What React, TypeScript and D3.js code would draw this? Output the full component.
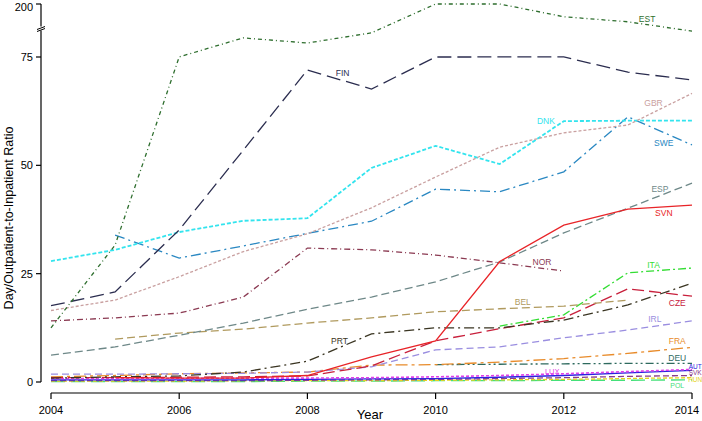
import React from "react";
import * as d3 from "d3";

const years = [2004, 2005, 2006, 2007, 2008, 2009, 2010, 2011, 2012, 2013, 2014];

const EST = [12.5, 31.6, 75.2, 120, 108, 132, 200, 200, 170, 158, 136];
const FIN = [17.6, 20.8, 35.1, 53.5, 72.0, 67.6, 75.0, 75.1, 75.1, 71.5, 69.7];
const GBR = [16.5, 18.9, 24.3, 30.1, 34.2, 40.2, 47.3, 54.2, 57.5, 59.3, 66.6];
const DNK = [27.9, 30.5, 34.6, 37.2, 37.8, 49.4, 54.5, 50.3, 60.2, 60.3, 60.3];
const SWE = [null, 33.9, 28.6, 31.4, 34.3, 37.1, 44.5, 43.9, 48.5, 61.2, 54.7];
const ESP = [6.2, 8.1, 10.8, 13.6, 16.8, 19.6, 23.1, 27.7, 34.4, 40.1, 45.9];
const NOR = [14.1, 14.8, 15.9, 19.6, 30.9, 30.5, 29.3, 27.5, 25.6, null, null];
const SVN = [null, 1.0, 0.9, 0.9, 1.5, 5.8, 9.5, 27.8, 36.2, 39.9, 40.8];
const BEL = [null, 9.9, 11.3, 12.2, 13.6, 14.8, 16.2, 16.9, 17.5, 18.9, null];
const PRT = [0.9, 1.2, 1.4, 2.3, 4.8, 11.1, 12.5, 12.5, 14.3, 17.8, 22.8];
const ITA = [null, null, null, null, null, null, null, 12.9, 15.5, 25.2, 26.3];
const CZE = [1.0, 1.0, 1.1, 1.2, 1.4, 3.7, 9.5, 12.3, 14.8, 21.5, 19.8];
const IRL = [1.8, 1.8, 1.9, 2.0, 2.3, 3.5, 7.4, 8.1, 10.2, 12.0, 14.1];
const FRA = [1.2, 1.5, 1.9, 2.1, 2.3, 3.9, 4.0, 4.6, 5.4, 6.6, 8.0];
const DEU = [null, null, null, null, null, null, 4.0, 4.1, 4.2, 4.3, 4.3];
const AUT = [0.5, 0.5, 0.5, 0.5, 0.6, 0.7, 0.8, 1.1, 1.5, 2.1, 2.7];
const LUX = [0.8, 0.8, 0.8, 0.9, 0.9, 1.0, 1.2, 1.5, 1.9, 2.4, 2.9];
const SVK = [0.3, 0.3, 0.3, 0.3, 0.4, 0.5, 0.6, 0.8, 1.0, 1.3, 1.5];
const HUN = [0.2, 0.2, 0.2, 0.3, 0.3, 0.3, 0.4, 0.5, 0.6, 0.8, 1.0];
const POL = [0.1, 0.1, 0.1, 0.1, 0.2, 0.2, 0.3, 0.3, 0.4, 0.4, 0.5];

const yTicks = [0, 25, 50, 75, 200];
const xTicks = [2004, 2006, 2008, 2010, 2012, 2014];

// label anchors in data coordinates [year, value]
const labelPos: Record<string, [number, number]> = {
  EST: [2013.3, 164],
  FIN: [2008.55, 71.3],
  GBR: [2013.4, 64.4],
  DNK: [2011.72, 60.2],
  SWE: [2013.56, 55.2],
  ESP: [2013.5, 44.5],
  SVN: [2013.56, 39.0],
  NOR: [2011.66, 27.7],
  ITA: [2013.4, 27.0],
  BEL: [2011.36, 18.5],
  CZE: [2013.77, 18.2],
  PRT: [2008.5, 9.5],
  IRL: [2013.42, 14.5],
  FRA: [2013.77, 9.5],
  DEU: [2013.77, 5.5],
  LUX: [2011.82, 2.5],
  AUT: [2014.05, 3.5],
  SVK: [2014.05, 2.1],
  HUN: [2014.05, 0.5],
  POL: [2013.77, -0.7],
};

const series: { name: string; values: (number | null)[]; color: string; dash: string; w: number; fs: number }[] = [
  { name: "POL", values: POL, color: "#44e07a", dash: "14,6", w: 1.3, fs: 7 },
  { name: "HUN", values: HUN, color: "#e6d320", dash: "4,2", w: 1.3, fs: 6.5 },
  { name: "SVK", values: SVK, color: "#8a3c8a", dash: "6,3", w: 1.3, fs: 6.5 },
  { name: "AUT", values: AUT, color: "#2a22e0", dash: "", w: 1.3, fs: 6.5 },
  { name: "LUX", values: LUX, color: "#e040e8", dash: "3,2", w: 1.6, fs: 7.5 },
  { name: "DEU", values: DEU, color: "#2e6a5e", dash: "8,3,2,3,2,3", w: 1.3, fs: 8.5 },
  { name: "FRA", values: FRA, color: "#e88b2a", dash: "12,4,3,4", w: 1.3, fs: 8.5 },
  { name: "IRL", values: IRL, color: "#9a8ee0", dash: "7,4", w: 1.3, fs: 8.5 },
  { name: "CZE", values: CZE, color: "#c8203c", dash: "12,5", w: 1.3, fs: 8.5 },
  { name: "PRT", values: PRT, color: "#3a3522", dash: "10,4,2,4", w: 1.3, fs: 8.5 },
  { name: "ITA", values: ITA, color: "#33dd33", dash: "8,3,2,3", w: 1.3, fs: 8.5 },
  { name: "BEL", values: BEL, color: "#b09a5e", dash: "8,4", w: 1.3, fs: 8.5 },
  { name: "NOR", values: NOR, color: "#8b3a52", dash: "6,3,1,3", w: 1.3, fs: 8.5 },
  { name: "ESP", values: ESP, color: "#6e8888", dash: "8,4", w: 1.3, fs: 8.5 },
  { name: "SVN", values: SVN, color: "#e82428", dash: "", w: 1.3, fs: 8.5 },
  { name: "SWE", values: SWE, color: "#2a88c2", dash: "10,4,2,4", w: 1.3, fs: 8.5 },
  { name: "DNK", values: DNK, color: "#33e4ee", dash: "4,2", w: 1.8, fs: 8.5 },
  { name: "GBR", values: GBR, color: "#c9a0a0", dash: "3,2", w: 1.3, fs: 8.5 },
  { name: "FIN", values: FIN, color: "#2b2d4f", dash: "14,6", w: 1.3, fs: 8.5 },
  { name: "EST", values: EST, color: "#2e6e2e", dash: "4,3,1,3", w: 1.3, fs: 8.5 },
];

export default function App() {
  const W = 702, H = 421;
  const x = d3.scaleLinear().domain([2004, 2014]).range([51, 692]);
  const y = d3.scaleLinear().domain([0, 75, 200]).range([382, 57, 4]);
  const axisX = 41;
  const axisY = 393;
  const font = "'Liberation Sans', Arial, sans-serif";

  const line = d3
    .line<[number, number | null]>()
    .defined((d) => d[1] !== null)
    .x((d) => x(d[0]))
    .y((d) => y(d[1] as number));

  const breakY = (y(75) + y(200)) / 2 - 2;

  return (
    <svg
      width={W}
      height={H}
      style={{ position: "absolute", left: 0, top: 0, background: "#fff" }}
      fontFamily={font}
    >
      {/* y axis */}
      <line x1={axisX} x2={axisX} y1={y(200)} y2={y(0)} stroke="#000" strokeWidth={1.2} />
      <rect x={axisX - 4} y={breakY - 2} width={8} height={4} fill="#fff" />
      <line x1={axisX - 4} x2={axisX + 4} y1={breakY + 1} y2={breakY - 2} stroke="#000" strokeWidth={1} />
      <line x1={axisX - 4} x2={axisX + 4} y1={breakY + 3} y2={breakY} stroke="#000" strokeWidth={1} />
      {yTicks.map((t) => (
        <g key={t}>
          <line x1={axisX - 5} x2={axisX} y1={y(t)} y2={y(t)} stroke="#000" strokeWidth={1.2} />
          <text x={axisX - 8} y={Math.max(y(t), 6.5)} textAnchor="end" dominantBaseline="central" fontSize={11}>
            {t}
          </text>
        </g>
      ))}
      <text
        transform={`translate(9,${218}) rotate(-90)`}
        textAnchor="middle"
        dominantBaseline="central"
        fontSize={12.5}
      >
        Day/Outpatient-to-Inpatient Ratio
      </text>

      {/* x axis */}
      <line x1={x(2004)} x2={x(2014)} y1={axisY} y2={axisY} stroke="#000" strokeWidth={1.2} />
      {xTicks.map((t) => (
        <g key={t}>
          <line x1={x(t)} x2={x(t)} y1={axisY} y2={axisY + 6} stroke="#000" strokeWidth={1.2} />
          <text x={Math.min(x(t), W - 15)} y={axisY + 17} textAnchor="middle" dominantBaseline="central" fontSize={11}>
            {t}
          </text>
        </g>
      ))}
      <text x={370} y={414} textAnchor="middle" dominantBaseline="central" fontSize={13}>
        Year
      </text>

      {/* lines */}
      {series.map((s) => (
        <path
          key={s.name}
          d={line(years.map((yr, i) => [yr, s.values[i]] as [number, number | null])) || ""}
          fill="none"
          stroke={s.color}
          strokeWidth={s.w}
          strokeDasharray={s.dash || undefined}
        />
      ))}

      {/* labels */}
      {series.map((s) => {
        const p = labelPos[s.name];
        return (
          <text
            key={"l" + s.name}
            x={x(p[0])}
            y={y(p[1])}
            textAnchor="middle"
            dominantBaseline="central"
            fontSize={s.fs}
            fill={s.color}
          >
            {s.name}
          </text>
        );
      })}
    </svg>
  );
}
